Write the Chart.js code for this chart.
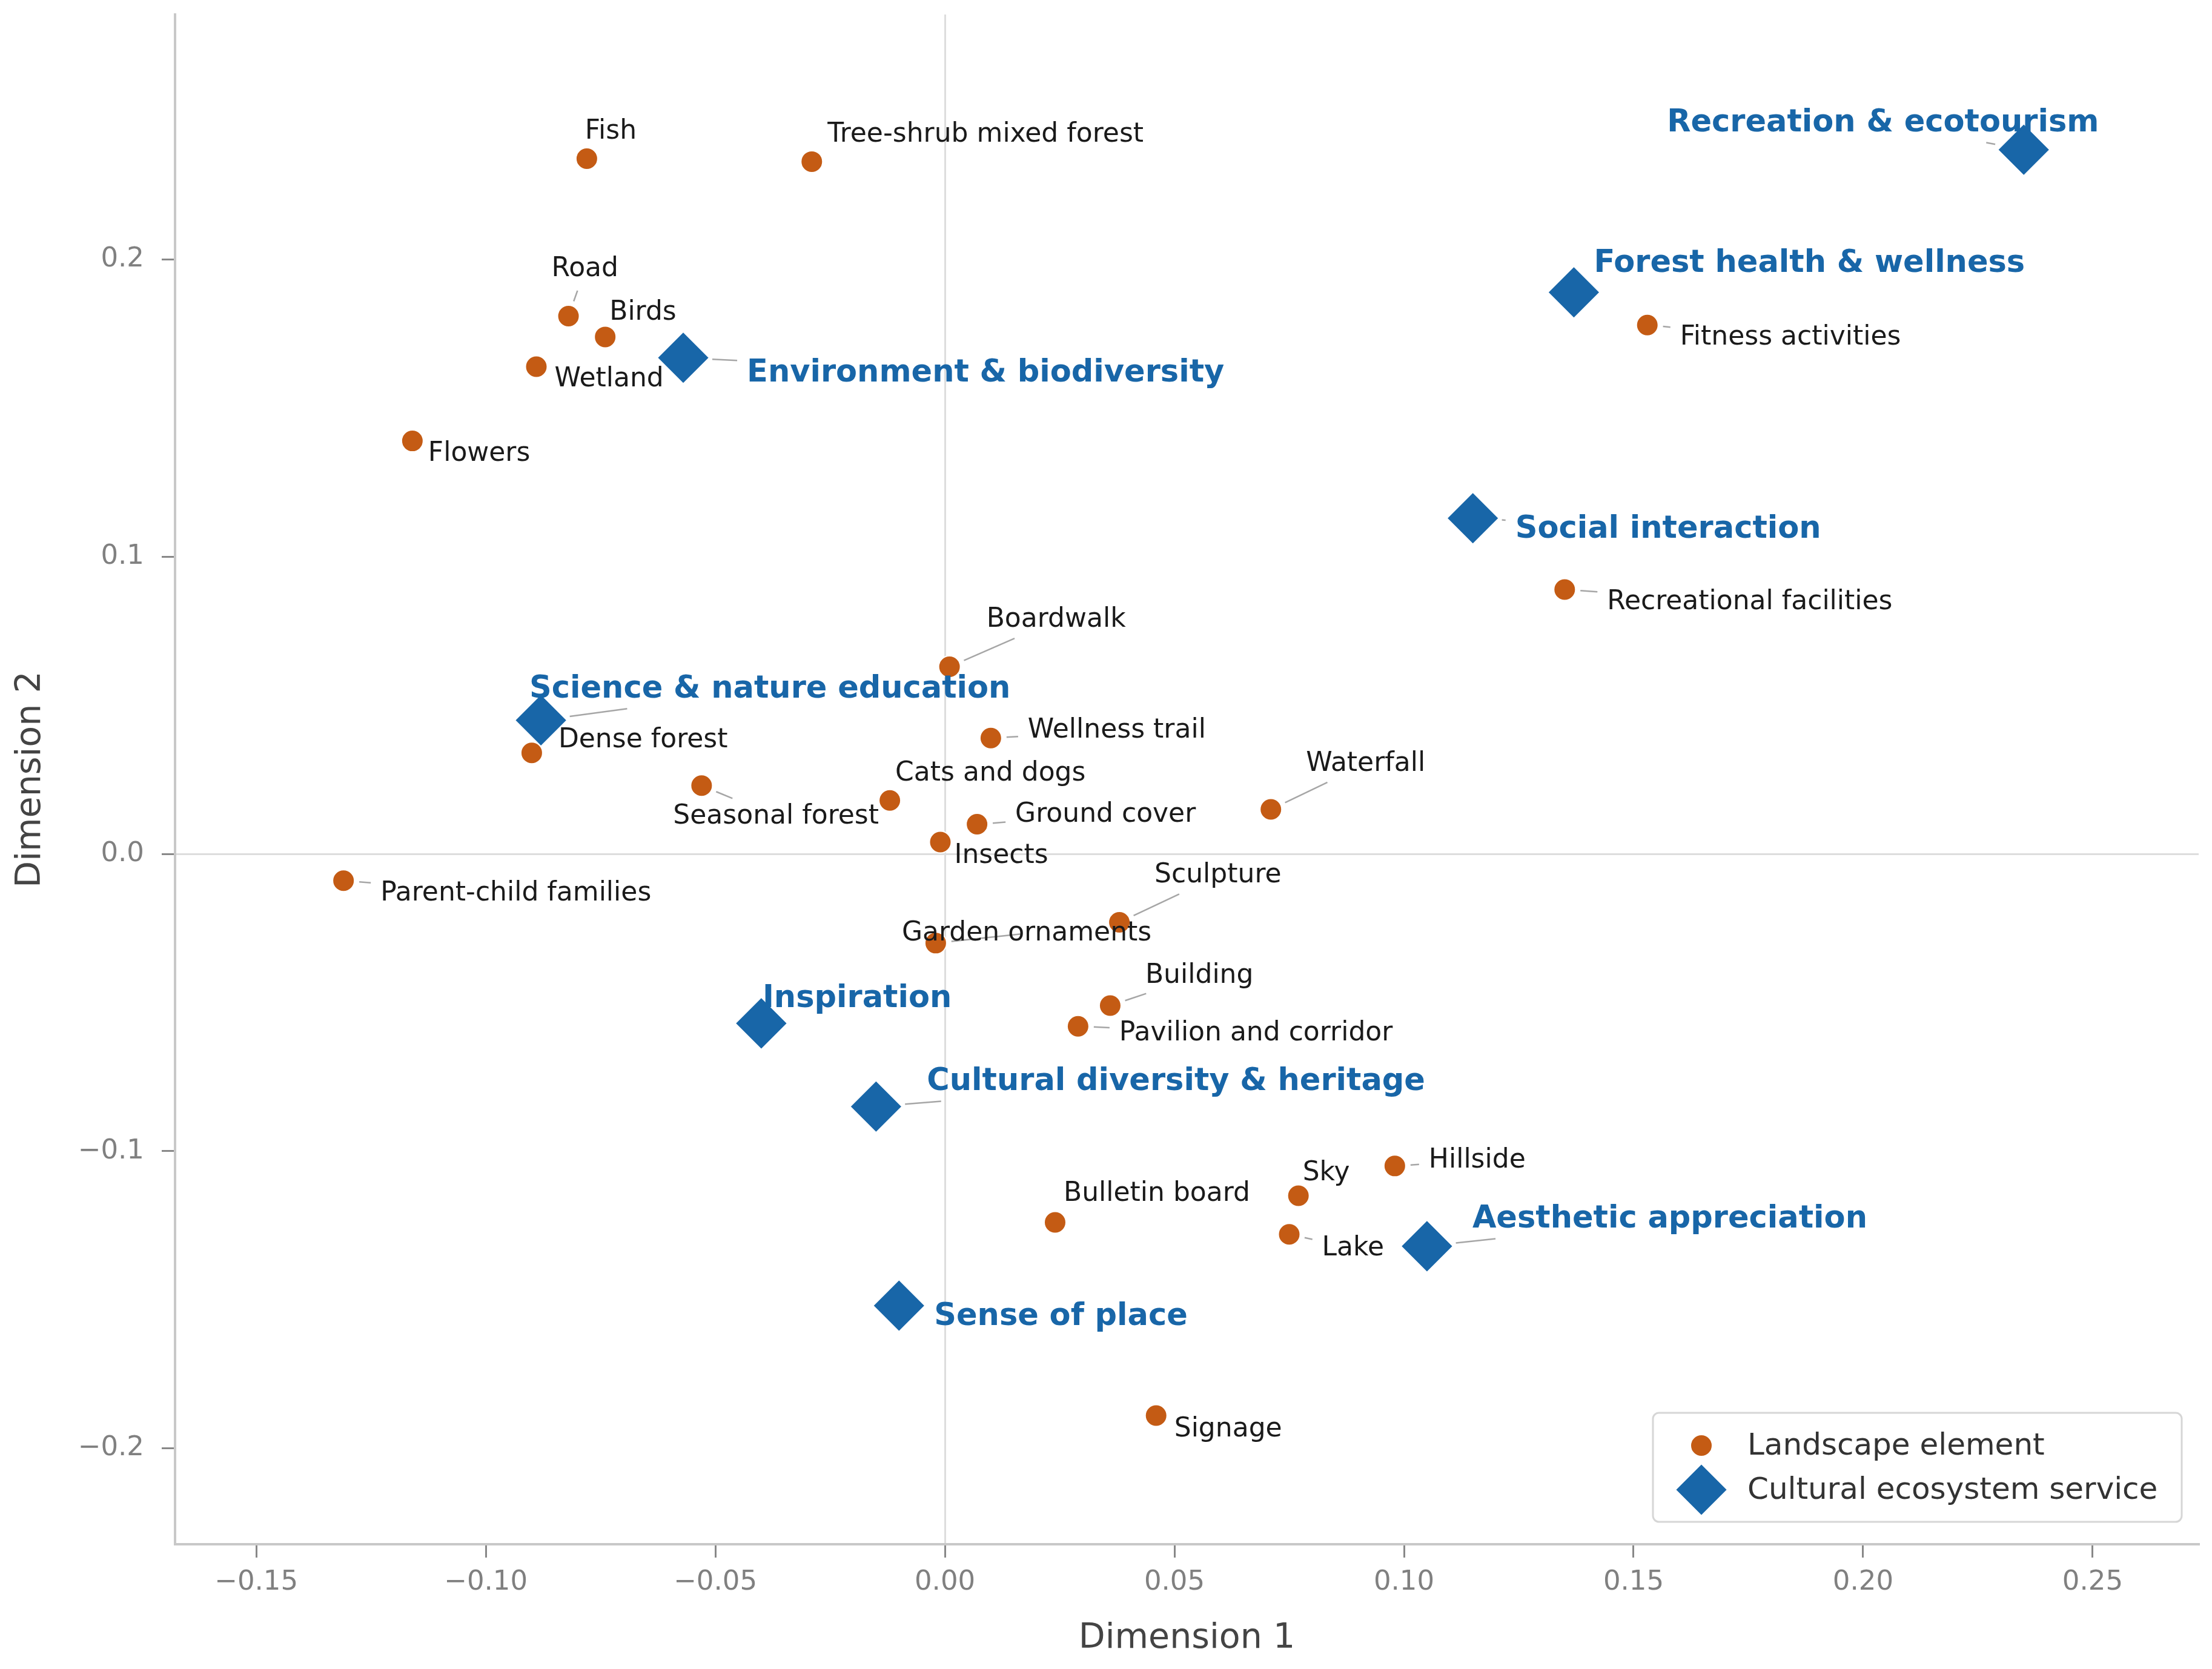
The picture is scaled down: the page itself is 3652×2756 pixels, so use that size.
<!DOCTYPE html>
<html>
<head>
<meta charset="utf-8">
<script src="https://cdn.jsdelivr.net/npm/chart.js@4.4.1/dist/chart.umd.min.js"></script>
<style>
  html, body { margin: 0; padding: 0; background: #fff; }
  #wrap { width: 3652px; height: 2756px; }
</style>
</head>
<body>
<div id="wrap"><canvas id="mcaChart" width="3652" height="2756"></canvas></div>
<script>
    // landscape elements (orange circles)
    const elementNames = [
      'Fish', 'Tree-shrub mixed forest', 'Road', 'Birds', 'Wetland', 'Flowers',
      'Fitness activities', 'Recreational facilities', 'Boardwalk', 'Wellness trail',
      'Dense forest', 'Seasonal forest', 'Cats and dogs', 'Ground cover', 'Insects',
      'Waterfall', 'Parent-child families', 'Sculpture', 'Garden ornaments', 'Building',
      'Pavilion and corridor', 'Hillside', 'Sky', 'Bulletin board', 'Lake', 'Signage'
    ];
    const elementX = [
      -0.078, -0.029, -0.082, -0.074, -0.089, -0.116,
      0.153, 0.135, 0.001, 0.010,
      -0.090, -0.053, -0.012, 0.007, -0.001,
      0.071, -0.131, 0.038, -0.002, 0.036,
      0.029, 0.098, 0.077, 0.024, 0.075, 0.046
    ];
    const elementY = [
      0.234, 0.233, 0.181, 0.174, 0.164, 0.139,
      0.178, 0.089, 0.063, 0.039,
      0.034, 0.023, 0.018, 0.010, 0.004,
      0.015, -0.009, -0.023, -0.030, -0.051,
      -0.058, -0.105, -0.115, -0.124, -0.128, -0.189
    ];

    // cultural ecosystem services (blue diamonds)
    const serviceNames = [
      'Recreation & ecotourism', 'Forest health & wellness', 'Environment & biodiversity',
      'Social interaction', 'Science & nature education', 'Inspiration',
      'Cultural diversity & heritage', 'Aesthetic appreciation', 'Sense of place'
    ];
    const serviceX = [0.235, 0.137, -0.057, 0.115, -0.088, -0.040, -0.015, 0.105, -0.010];
    const serviceY = [0.237, 0.189, 0.167, 0.113, 0.045, -0.057, -0.085, -0.132, -0.152];

    const xTicks = [-0.15, -0.10, -0.05, 0.00, 0.05, 0.10, 0.15, 0.20, 0.25];
    const yTicks = [-0.2, -0.1, 0.0, 0.1, 0.2];

    // label placement: pixel offsets from the marker (left edge, vertical middle)
    // and whether a leader line joins label and marker
    const elementLabelOffsets = [
      [-3, -44], [26, -44], [-28, -77], [7, -40], [30, 21], [26, 21],
      [54, 21], [70, 21], [61, -77], [61, -12],
      [44, -21], [-47, 51], [9, -44], [63, -16], [23, 23],
      [58, -75], [61, 21], [58, -77], [-56, -16], [58, -49],
      [68, 12], [56, -9], [7, -37], [14, -47], [54, 23], [30, 23]
    ];
    const elementLeaders = [
      false, false, true, false, false, false,
      true, true, true, true,
      false, true, false, true, false,
      true, true, true, true, true,
      true, true, false, false, true, false
    ];
    const serviceLabelOffsets = [
      [-589, -44], [33, -47], [105, 26], [70, 19], [-19, -51],
      [2, -40], [84, -40], [75, -44], [58, 19]
    ];
    const serviceLeaders = [true, false, true, true, true, false, true, true, false];

    const ORANGE = '#c45b14';
    const BLUE = '#1866a8';
    const FONT = '"DejaVu Sans", sans-serif';

    const fmt = v => {
      const s = Math.abs(v).toFixed(2);
      return v < -1e-9 ? '\u2212' + s : s;
    };
    const fmt1 = v => {
      const s = Math.abs(v).toFixed(1);
      return v < -1e-9 ? '\u2212' + s : s;
    };

    function drawMarker(ctx, style, x, y, r, color) {
      ctx.save();
      ctx.fillStyle = color;
      ctx.strokeStyle = '#ffffff';
      ctx.lineWidth = 2;
      ctx.beginPath();
      if (style === 'circle') {
        ctx.arc(x, y, r, 0, Math.PI * 2);
      } else {
        ctx.moveTo(x - r, y);
        ctx.lineTo(x, y - r);
        ctx.lineTo(x + r, y);
        ctx.lineTo(x, y + r);
        ctx.closePath();
      }
      ctx.fill();
      ctx.stroke();
      ctx.restore();
    }

    // text labels with leader lines, drawn like matplotlib annotate arrows
    const labelPlugin = {
      id: 'labels',
      afterDatasetsDraw(chart) {
        const ctx = chart.ctx;
        const groups = [
          { meta: chart.getDatasetMeta(0), names: elementNames, offs: elementLabelOffsets,
            leaders: elementLeaders, font: '44px ' + FONT, size: 44, color: '#1a1a1a', shrinkB: 26 },
          { meta: chart.getDatasetMeta(1), names: serviceNames, offs: serviceLabelOffsets,
            leaders: serviceLeaders, font: 'bold 51px ' + FONT, size: 51, color: BLUE, shrinkB: 48 }
        ];
        const padX = 7;
        const shrinkA = 9;
        groups.forEach(g => {
          ctx.save();
          ctx.font = g.font;
          g.meta.data.forEach((pt, i) => {
            if (!g.leaders[i]) return;
            const px = pt.x, py = pt.y;
            const tx = px + g.offs[i][0];
            const ty = py + g.offs[i][1];
            const w = ctx.measureText(g.names[i]).width;
            const cx = tx + w / 2, cy = ty;
            const hh = g.size * 0.6;
            const x0 = tx - padX, x1 = tx + w + padX;
            const y0 = cy - hh, y1 = cy + hh;
            const dx = px - cx, dy = py - cy;
            let t = 0;
            if (!(px > x0 && px < x1 && py > y0 && py < y1)) {
              t = 1;
              if (dx !== 0) t = Math.min(t, ((dx > 0 ? x1 : x0) - cx) / dx);
              if (dy !== 0) t = Math.min(t, ((dy > 0 ? y1 : y0) - cy) / dy);
            }
            let sx = cx + dx * t, sy = cy + dy * t;
            const len = Math.hypot(px - sx, py - sy);
            if (len <= shrinkA + g.shrinkB + 2) return;
            const ux = (px - sx) / len, uy = (py - sy) / len;
            const ex = px - ux * g.shrinkB, ey = py - uy * g.shrinkB;
            sx += ux * shrinkA;
            sy += uy * shrinkA;
            ctx.strokeStyle = '#a6a6a6';
            ctx.lineWidth = 2.5;
            ctx.beginPath();
            ctx.moveTo(sx, sy);
            ctx.lineTo(ex, ey);
            ctx.stroke();
          });
          ctx.fillStyle = g.color;
          ctx.textAlign = 'left';
          ctx.textBaseline = 'middle';
          g.meta.data.forEach((pt, i) => {
            ctx.fillText(g.names[i], pt.x + g.offs[i][0], pt.y + g.offs[i][1]);
          });
          ctx.restore();
        });

        // legend box in the lower right corner
        const bx = 2729, by = 2333, bw = 873, bh = 180;
        ctx.save();
        ctx.fillStyle = 'rgba(255,255,255,0.85)';
        ctx.strokeStyle = '#d6d6d6';
        ctx.lineWidth = 3;
        ctx.beginPath();
        ctx.roundRect(bx, by, bw, bh, 10);
        ctx.fill();
        ctx.stroke();
        drawMarker(ctx, 'circle', 2809, 2387, 18, ORANGE);
        drawMarker(ctx, 'diamond', 2809, 2460, 43, BLUE);
        ctx.fillStyle = '#333333';
        ctx.font = '50px ' + FONT;
        ctx.textAlign = 'left';
        ctx.textBaseline = 'middle';
        ctx.fillText(chart.data.datasets[0].label, 2885, 2389);
        ctx.fillText(chart.data.datasets[1].label, 2885, 2462);
        ctx.restore();
      }
    };

    const ctx = document.getElementById('mcaChart').getContext('2d');
    const chart = new Chart(ctx, {
      type: 'scatter',
      data: {
        datasets: [
          {
            label: 'Landscape element',
            data: elementX.map((x, i) => ({ x: x, y: elementY[i] })),
            pointStyle: 'circle',
            pointRadius: 18,
            pointHoverRadius: 18,
            backgroundColor: ORANGE,
            borderColor: '#ffffff',
            borderWidth: 2
          },
          {
            label: 'Cultural ecosystem service',
            data: serviceX.map((x, i) => ({ x: x, y: serviceY[i] })),
            pointStyle: 'rectRot',
            pointRadius: 43,
            pointHoverRadius: 43,
            backgroundColor: BLUE,
            borderColor: '#ffffff',
            borderWidth: 2
          }
        ]
      },
      options: {
        responsive: false,
        animation: false,
        devicePixelRatio: 1,
        layout: { autoPadding: false, padding: { left: 0, right: 22, top: 24, bottom: 0 } },
        plugins: {
          legend: { display: false },
          tooltip: { enabled: false }
        },
        scales: {
          x: {
            type: 'linear',
            min: -0.1677,
            max: 0.2731,
            afterBuildTicks: scale => { scale.ticks = xTicks.map(v => ({ value: v })); },
            afterFit: scale => {
              scale.height = 206;
              scale.paddingLeft = 0;
              scale.paddingRight = 0;
            },
            ticks: {
              callback: v => fmt(v),
              color: '#808080',
              font: { family: FONT, size: 45 },
              padding: 14
            },
            grid: {
              color: c => (c.tick && Math.abs(c.tick.value) < 1e-9) ? '#dddddd' : 'rgba(0,0,0,0)',
              lineWidth: 3,
              tickColor: '#888888',
              tickWidth: 3,
              tickLength: 22
            },
            border: { display: true, color: '#c8c8c8', width: 4 },
            title: {
              display: true,
              text: 'Dimension 1',
              color: '#444444',
              font: { family: FONT, size: 57 },
              padding: { top: 0, bottom: 16 }
            }
          },
          y: {
            type: 'linear',
            min: -0.2323,
            max: 0.2825,
            afterBuildTicks: scale => { scale.ticks = yTicks.map(v => ({ value: v })); },
            afterFit: scale => {
              scale.width = 289;
              scale.paddingTop = 0;
              scale.paddingBottom = 0;
            },
            ticks: {
              callback: v => fmt1(v),
              color: '#808080',
              font: { family: FONT, size: 45 },
              padding: 29
            },
            grid: {
              color: c => (c.tick && Math.abs(c.tick.value) < 1e-9) ? '#dddddd' : 'rgba(0,0,0,0)',
              lineWidth: 3,
              tickColor: '#888888',
              tickWidth: 3,
              tickLength: 22
            },
            border: { display: true, color: '#c8c8c8', width: 4 },
            title: {
              display: true,
              text: 'Dimension 2',
              color: '#444444',
              font: { family: FONT, size: 57 },
              padding: { top: 17, bottom: 0 }
            }
          }
        }
      },
      plugins: [labelPlugin]
    });
</script>
</body>
</html>
